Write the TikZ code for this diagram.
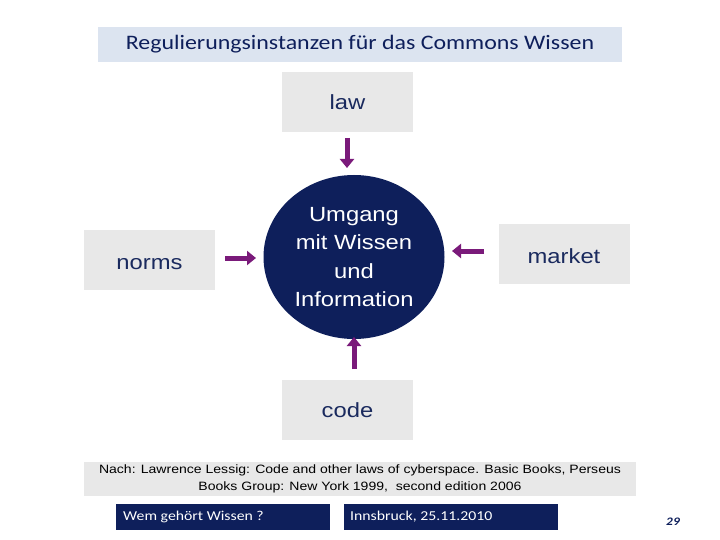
\documentclass[tikz,border=0pt]{standalone}
\usepackage{fontspec}
\setmainfont[FakeStretch=1.16]{Liberation Sans}
\newfontfamily\calfont[FakeStretch=1.16]{Carlito}
\usetikzlibrary{arrows.meta,shapes.geometric}
\definecolor{navy}{HTML}{0E1F5B}
\definecolor{txtblue}{HTML}{1A2A5E}
\definecolor{arrowpurple}{HTML}{7A1A7A}
\definecolor{boxgray}{HTML}{E8E8E8}
\definecolor{titlefill}{HTML}{DCE4F0}
\tikzset{
  graybox/.style={fill=boxgray, draw=none, minimum width=131pt, minimum height=60pt, inner sep=0pt, text=txtblue, font=\fontsize{20.5}{24}\selectfont},
  navybox/.style={fill=navy, draw=none, minimum width=214pt, minimum height=26pt, inner sep=0pt},
  foottext/.style={anchor=west, text=white, font=\calfont\fontsize{13.6}{16}\selectfont, inner sep=0pt},
  parrow/.style={draw=arrowpurple, line width=5pt, -{Triangle[width=14pt,length=9pt]}}
}
\begin{document}
\begin{tikzpicture}[x=1pt,y=-1pt]
\useasboundingbox (0,0) rectangle (720,540);
\fill[white] (0,0) rectangle (720,540);
% title
\node[fill=titlefill, minimum width=524pt, minimum height=35pt, inner sep=0pt, text=navy, font=\calfont\fontsize{20.6}{22}\selectfont] (title) at (360,44.5) {Regulierungsinstanzen für das Commons Wissen};
% boxes
\node[graybox] (law) at (347.5,102) {law};
\node[graybox, text depth=0pt, text height=19pt] (norms) at (149.5,260) {norms};
\node[graybox, text depth=0pt, text height=19pt] (market) at (564,254) {market};
\node[graybox] (code) at (347.5,410) {code};
% center
\node[ellipse, fill=navy, minimum width=181pt, minimum height=164pt, inner sep=0pt, text=white, align=center, font=\fontsize{20.5}{28.5}\selectfont] (center) at (354,257) {Umgang\\mit Wissen\\und\\Information};
% arrow anchors
\coordinate (lawS) at (347,138);
\coordinate (lawT) at (347,168);
\coordinate (normsS) at (225,258);
\coordinate (normsT) at (256,258);
\coordinate (marketS) at (484,251);
\coordinate (marketT) at (452,251);
\coordinate (codeS) at (354,369);
\coordinate (codeT) at (354,337);
\draw[parrow] (lawS) -- (lawT);
\draw[parrow] (normsS) -- (normsT);
\draw[parrow] (marketS) -- (marketT);
\draw[parrow] (codeS) -- (codeT);
% citation
\node[fill=boxgray, minimum width=552pt, minimum height=34pt, inner sep=0pt, align=center, text=black, font=\fontsize{12.1}{17}\selectfont] (cite) at (360,479) {Nach: Lawrence Lessig: Code and other laws of cyberspace. Basic Books, Perseus\\Books Group: New York 1999,\ \ second edition 2006};
% footer
\node[navybox] (f1) at (223,517) {};
\node[foottext] (f1t) at (123,517) {Wem gehört Wissen ?};
\node[navybox] (f2) at (450.5,517) {};
\node[foottext] (f2t) at (350,517) {Innsbruck, 25.11.2010};
\node[text=navy, font=\calfont\bfseries\itshape\fontsize{11.5}{13}\selectfont, inner sep=0pt] (page) at (673,522) {29};
\end{tikzpicture}
\end{document}
